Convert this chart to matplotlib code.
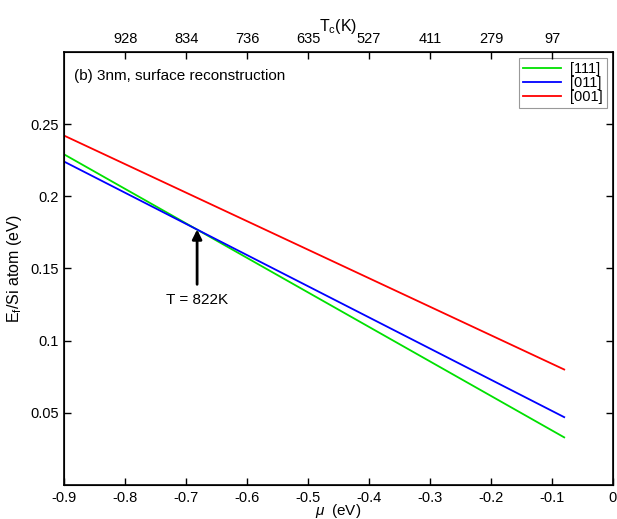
import numpy as np
import matplotlib.pyplot as plt

plt.rcParams['font.family'] = ['Liberation Sans', 'DejaVu Sans']
plt.rcParams['mathtext.fontset'] = 'custom'
plt.rcParams['mathtext.rm'] = 'Liberation Sans'
plt.rcParams['mathtext.it'] = 'Liberation Sans:italic'

# chemical potential range (eV) and E_f per Si atom at its ends
mu = [-0.9, -0.08]
ef_111 = [0.229, 0.033]
ef_011 = [0.224, 0.047]
ef_001 = [0.242, 0.080]

top_ticks = [-0.8, -0.7, -0.6, -0.5, -0.4, -0.3, -0.2, -0.1]
top_labels = ['928', '834', '736', '635', '527', '411', '279', '97']

cross_mu = -0.682
cross_ef = 0.177

fig = plt.figure(figsize=(6.17, 5.19), dpi=100)
ax = fig.add_axes([0.104, 0.0655, 0.8895, 0.8345])

ax.plot(mu, ef_111, color='#00e000', lw=1.3, label='[111]')
ax.plot(mu, ef_011, color='#0000ff', lw=1.3, label='[011]')
ax.plot(mu, ef_001, color='#ff0000', lw=1.3, label='[001]')

ax.set_xlim(-0.9, 0)
ax.set_ylim(0, 0.3)
ax.set_xticks(np.arange(-0.9, 0.01, 0.1))
ax.set_xticklabels(['-0.9', '-0.8', '-0.7', '-0.6', '-0.5', '-0.4', '-0.3', '-0.2', '-0.1', '0'])
ax.set_yticks([0.05, 0.1, 0.15, 0.2, 0.25])
ax.set_yticklabels(['0.05', '0.1', '0.15', '0.2', '0.25'])
ax.tick_params(direction='in', length=5, width=1, labelsize=10.5, right=True, pad=4)
for s in ax.spines.values():
    s.set_linewidth(1.2)

ax.set_xlabel(r'$\mu_{\ }$ (eV)', fontsize=11, labelpad=-2)
ax.set_ylabel(r'E$_\mathrm{f}$/Si atom (eV)', fontsize=11.5, labelpad=4)

top = ax.twiny()
top.set_xlim(ax.get_xlim())
top.set_xticks(top_ticks)
top.set_xticklabels(top_labels)
top.tick_params(direction='in', length=5, width=1, labelsize=10.5, pad=4)
top.set_xlabel(r'T$_\mathrm{c}$(K)', fontsize=11.5, labelpad=1)

ax.text(0.018, 0.96, '(b) 3nm, surface reconstruction', transform=ax.transAxes,
        fontsize=11, va='top', ha='left')

ax.annotate('', xy=(cross_mu, cross_ef), xytext=(cross_mu, 0.139),
            arrowprops=dict(arrowstyle='-|>', color='black', lw=2, mutation_scale=14,
                            shrinkA=0, shrinkB=0))
ax.text(cross_mu, 0.128, 'T = 822K', fontsize=11, ha='center', va='center')

leg = ax.legend(loc='upper right', fontsize=10.5, frameon=True, fancybox=False,
                edgecolor='#808080', handlelength=2.6, handletextpad=0.6,
                labelspacing=0.0, borderpad=0.3, borderaxespad=0.4)
leg.get_frame().set_linewidth(0.8)

fig.savefig('out.png', dpi=100)
